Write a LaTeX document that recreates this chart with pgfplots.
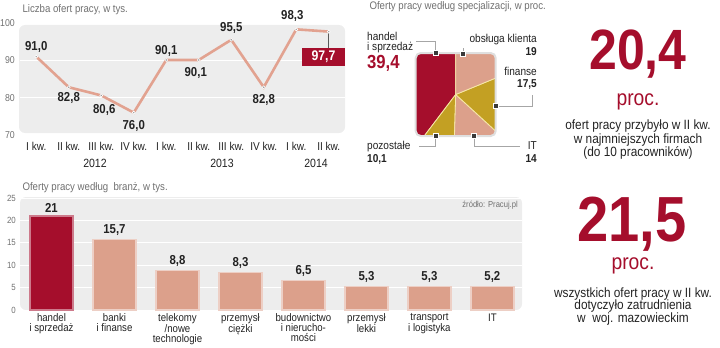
\documentclass[border=0pt]{standalone}
\usepackage{fontspec}
\setmainfont{Liberation Sans}[FakeStretch=0.88]
\usepackage{pgfplots}
\pgfplotsset{compat=1.18}
\definecolor{dred}{HTML}{A50E2C}
\definecolor{salm}{HTML}{DCA08B}
\definecolor{gold}{HTML}{C3A023}
\definecolor{bgc}{HTML}{EDEDED}
\definecolor{txt}{HTML}{222222}
\definecolor{ttl}{HTML}{707070}
\definecolor{sep}{HTML}{F6E7A8}
\definecolor{linec}{HTML}{E2A290}
\newcommand{\fs}[1]{\fontsize{#1}{#1}\selectfont}
\begin{document}
\begin{tikzpicture}[x=1bp,y=1bp]
\path[use as bounding box] (0,0) rectangle (720,347);

% ---------------- line chart ----------------
\fill[bgc, rounded corners=6bp] (19,214) rectangle (345,322);
\node[anchor=west, text=ttl, font=\fs{11}] at (19,337) {Liczba ofert pracy, w tys.};
\draw[gray!70!black, line width=0.6bp] (328.75,315) -- (328.75,299);
\begin{axis}[at={(20bp,212bp)}, anchor=south west, scale only axis,
  width=325bp, height=112bp, xmin=-0.5, xmax=9.5, ymin=70, ymax=100,
  axis line style={draw=none}, major tick length=0pt,
  ytick={70,80,90,100}, ymajorgrids, grid style={white, line width=1bp},
  xtick={0,...,9},
  xticklabels={I kw.,II kw.,III kw.,IV kw.,I kw.,II kw.,III kw.,IV kw.,I kw.,II kw.},
  xticklabel style={anchor=center, yshift=-11bp, font=\fs{11.5}, text=txt},
  yticklabel style={anchor=east, inner sep=0pt, xshift=-5bp, font=\fs{10}, text=ttl},
  /pgf/number format/assume math mode=true, clip=false]
\addplot[linec, line width=2.6bp, mark=*, mark size=1.5bp,
  mark options={fill=gray!80, draw=white, line width=0.6bp}]
  coordinates {(0,91.0)(1,82.8)(2,80.6)(3,76.0)(4,90.1)(5,90.1)(6,95.5)(7,82.8)(8,98.3)(9,97.7)};
\node[font=\bfseries\fs{13}, text=txt] at (axis cs:0,91.0) [yshift=10bp] {91,0};
\node[font=\bfseries\fs{13}, text=txt] at (axis cs:1,82.8) [yshift=-11bp] {82,8};
\node[font=\bfseries\fs{13}, text=txt] at (axis cs:2,80.6) [xshift=3bp, yshift=-15bp] {80,6};
\node[font=\bfseries\fs{13}, text=txt] at (axis cs:3,76.0) [yshift=-13bp] {76,0};
\node[font=\bfseries\fs{13}, text=txt] at (axis cs:4,90.1) [yshift=9bp] {90,1};
\node[font=\bfseries\fs{13}, text=txt] at (axis cs:5,90.1) [xshift=-3bp, yshift=-13bp] {90,1};
\node[font=\bfseries\fs{13}, text=txt] at (axis cs:6,95.5) [yshift=12bp] {95,5};
\node[font=\bfseries\fs{13}, text=txt] at (axis cs:7,82.8) [yshift=-13bp] {82,8};
\node[font=\bfseries\fs{13}, text=txt] at (axis cs:8,98.3) [xshift=-4bp, yshift=13bp] {98,3};
\end{axis}
\node[fill=dred, text=white, font=\bfseries\fs{14}, minimum width=43bp, minimum height=18bp, inner sep=0pt] at (323.5,290) {97,7};
\node[text=txt, font=\fs{12}] at (95,184) {2012};
\node[text=txt, font=\fs{12}] at (222,184) {2013};
\node[text=txt, font=\fs{12}] at (316,184) {2014};

% ---------------- square pie ----------------
\node[anchor=west, text=ttl, font=\fs{11}] at (366,340) {Oferty pracy według specjalizacji, w proc.};
\begin{scope}
\clip[rounded corners=5bp] (415.7,211) rectangle (495.7,294);
\begin{axis}[at={(415.7bp,211bp)}, anchor=south west, scale only axis,
  width=80bp, height=83bp, xmin=-1, xmax=1, ymin=-1, ymax=1, hide axis, clip=false]
\addplot[fill=dred, draw=sep, line width=0.8bp] coordinates {(0,0)(0,1.1)(-1.1,1.1)(-1.1,-1.1)(-0.865,-1.1)} -- cycle;
\addplot[fill=gold, draw=sep, line width=0.8bp] coordinates {(0,0)(-0.865,-1.1)(-0.034,-1.1)} -- cycle;
\addplot[fill=salm, draw=sep, line width=0.8bp] coordinates {(0,0)(-0.034,-1.1)(1.1,-1.1)(1.1,-0.970)} -- cycle;
\addplot[fill=gold, draw=sep, line width=0.8bp] coordinates {(0,0)(1.1,-0.970)(1.1,0.436)} -- cycle;
\addplot[fill=salm, draw=sep, line width=0.8bp] coordinates {(0,0)(1.1,0.436)(1.1,1.1)(0,1.1)} -- cycle;
\end{axis}
\end{scope}
\draw[gray!25, line width=2bp, rounded corners=5bp] (415.7,211) rectangle (495.7,294);
\draw[gray!70, line width=0.6bp] (435.7,294) -- (435.7,306) -- (416,306);
\draw[gray!70, line width=0.6bp] (463,294) -- (463,299);
\draw[gray!70, line width=0.6bp] (495.7,241) -- (532,241) -- (532,252);
\draw[gray!70, line width=0.6bp] (474,211) -- (474,200.5) -- (520,200.5);
\draw[gray!70, line width=0.6bp] (435.7,211) -- (435.7,200.5) -- (419,200.5);
\foreach \p in {(435.7,294),(463,293),(495.7,241),(474,211),(435.7,211)}
  \node[fill=gray!45!black, draw=white, line width=0.6bp, minimum size=5.5bp, inner sep=0pt] at \p {};
\node[anchor=west, text=txt, font=\fs{11.5}, align=left, inner sep=0pt] at (367,311) {handel};
\node[anchor=west, text=txt, font=\fs{11.5}, align=left, inner sep=0pt] at (367,299.5) {i sprzedaż};
\node[anchor=west, text=dred, font=\bfseries\fs{19}, inner sep=0pt] at (367,283.5) {39,4};
\node[anchor=east, text=txt, font=\fs{11.5}, inner sep=0pt] at (537,307) {obsługa klienta};
\node[anchor=east, text=txt, font=\bfseries\fs{11.5}, inner sep=0pt] at (537,295) {19};
\node[anchor=east, text=txt, font=\fs{11.5}, inner sep=0pt] at (537,276) {finanse};
\node[anchor=east, text=txt, font=\bfseries\fs{11.5}, inner sep=0pt] at (537,263) {17,5};
\node[anchor=west, text=txt, font=\fs{11.5}, inner sep=0pt] at (367,200) {pozostałe};
\node[anchor=west, text=txt, font=\bfseries\fs{11.5}, inner sep=0pt] at (367,188) {10,1};
\node[anchor=east, text=txt, font=\fs{11.5}, inner sep=0pt] at (537,201) {IT};
\node[anchor=east, text=txt, font=\bfseries\fs{11.5}, inner sep=0pt] at (537,188) {14};

% ---------------- right texts ----------------
\node[anchor=base, text=dred, font=\bfseries\fs{57}, inner sep=0pt] at (638,278) {20,4};
\node[anchor=base, text=dred, font=\fs{22}, inner sep=0pt] at (638,242) {proc.};
\node[anchor=base, text=txt, font=\fs{13.5}, inner sep=0pt] at (638,218) {ofert pracy przybyło w II kw.};
\node[anchor=base, text=txt, font=\fs{13.5}, inner sep=0pt] at (638,204) {w najmniejszych firmach};
\node[anchor=base, text=txt, font=\fs{13.5}, inner sep=0pt] at (638,191) {(do 10 pracowników)};
\node[anchor=base, text=dred, font=\bfseries\fs{64}, inner sep=0pt] at (632,106) {21,5};
\node[anchor=base, text=dred, font=\fs{22}, inner sep=0pt] at (633,78) {proc.};
\node[anchor=base, text=txt, font=\fs{13.5}, inner sep=0pt] at (633,50) {wszystkich ofert pracy w II kw.};
\node[anchor=base, text=txt, font=\fs{13.5}, inner sep=0pt] at (633,38) {dotyczyło zatrudnienia};
\node[anchor=base, text=txt, font=\fs{13.5}, inner sep=0pt] at (633,25) {w\ \ woj. mazowieckim};

% ---------------- bar chart ----------------
\fill[bgc, rounded corners=6bp] (20,37) rectangle (522,150);
\node[anchor=west, text=ttl, font=\fs{11}] at (19,159) {Oferty pracy według\ \ branż, w tys.};
\node[anchor=east, text=ttl, font=\fs{8.7}, inner sep=0pt] at (518,142) {źródło: Pracuj.pl};
\begin{axis}[at={(20bp,37bp)}, anchor=south west, scale only axis,
  width=502bp, height=112bp, xmin=-0.5, xmax=7.47, ymin=0, ymax=25,
  axis line style={draw=none}, major tick length=0pt,
  ytick={0,5,10,15,20,25}, ymajorgrids, grid style={white, line width=1bp},
  xtick={0,...,7},
  xticklabels={{handel\\i sprzedaż},{banki\\i finanse},{telekomy\\/nowe\\technologie},{przemysł\\ciężki},{budownictwo\\i nierucho-\\mości},{przemysł\\lekki},{transport\\i logistyka},{IT}},
  xticklabel style={align=center, anchor=north, inner sep=0pt, yshift=-3.5bp, font=\fontsize{11}{10}\selectfont, text=txt},
  yticklabel style={anchor=east, inner sep=0pt, xshift=-4bp, font=\fs{9}, text=ttl},
  nodes near coords, nodes near coords style={font=\bfseries\fs{13}, text=txt},
  /pgf/number format/assume math mode=true, /pgf/number format/use comma,
  clip=false]
\addplot[ybar, bar width=43bp, bar shift=0pt, fill=dred, draw=dred!55!white, line width=1.2bp]
  coordinates {(0,21)};
\addplot[ybar, bar width=43bp, bar shift=0pt, fill=salm, draw=salm!50!white, line width=1.2bp]
  coordinates {(1,15.7)(2,8.8)(3,8.3)(4,6.5)(5,5.3)(6,5.3)(7,5.2)};
\end{axis}
\end{tikzpicture}
\end{document}
